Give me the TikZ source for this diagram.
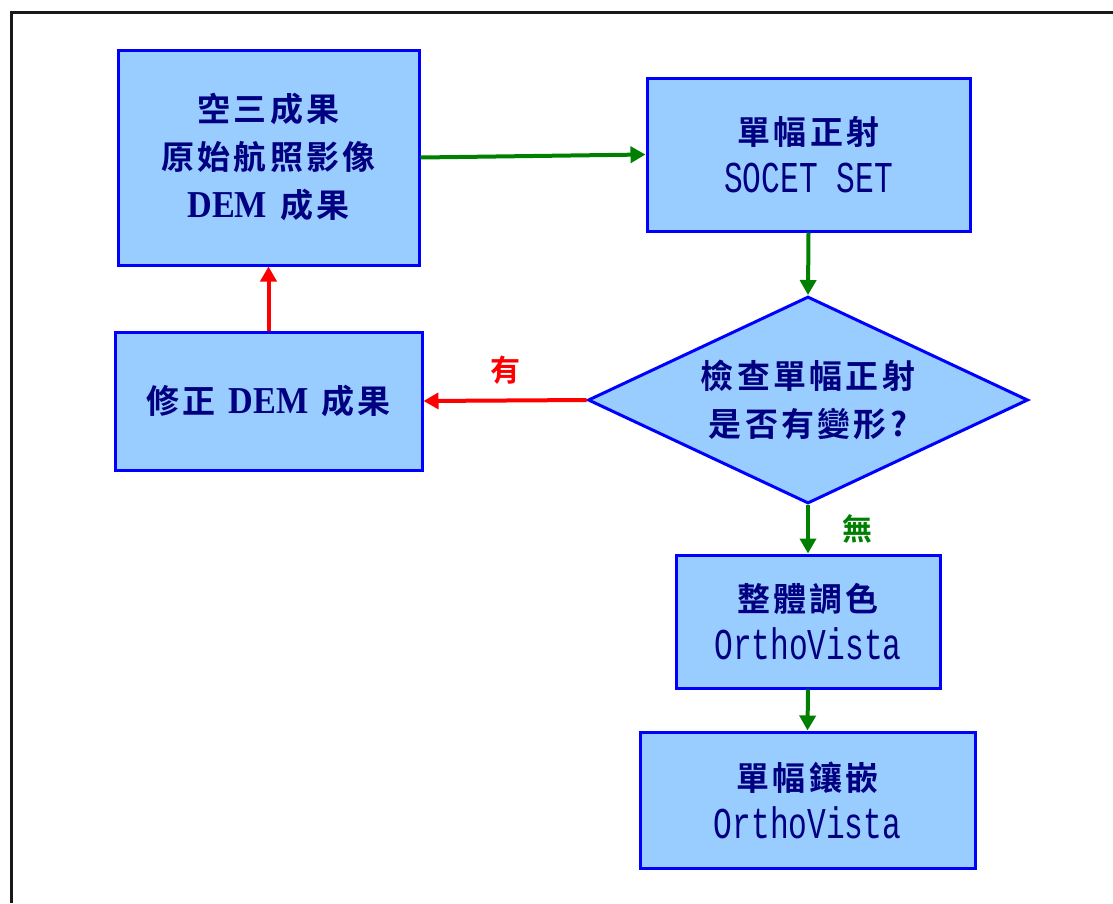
\documentclass[tikz,border=0pt]{standalone}
\usepackage{fontspec}
\setmainfont{Liberation Serif}
\newfontfamily\cjk[LetterSpace=10]{Noto Sans CJK TC Bold}
\newfontfamily\monofnt[FakeStretch=0.71]{Liberation Mono}
\newfontfamily\demfont[FakeStretch=0.9]{Liberation Serif Bold}
\usetikzlibrary{arrows.meta,shapes.geometric}
\newcommand\zh[1]{{\cjk #1}}
\newcommand\en[1]{{\demfont\fontsize{38}{48}\selectfont #1}}
\newcommand\mn[1]{{\monofnt\fontsize{44}{48}\selectfont #1}}
\newcommand\gap{\hspace*{13pt}}
\definecolor{boxfill}{HTML}{99CCFF}
\definecolor{navytext}{HTML}{000080}
\definecolor{arrowgreen}{HTML}{008000}
\tikzset{
  box/.style={draw=blue, line width=3pt, fill=boxfill, text=navytext, align=center,
    inner sep=0pt, font=\fontsize{33}{48}\selectfont},
  garrow/.style={draw=arrowgreen, line width=4pt, -{Triangle[length=15pt,width=16pt]}},
  rarrow/.style={draw=red, line width=4pt, -{Triangle[length=15pt,width=16pt]}},
  lbl/.style={inner sep=0pt, font=\fontsize{30}{36}\selectfont}
}
\begin{document}
\begin{tikzpicture}[x=1pt,y=-1pt]
\useasboundingbox (0,0) rectangle (1113,903);
\draw[line width=3pt, black!90] (11,903) -- (11,12) -- (1113,12);
\node[box, minimum width=301, minimum height=215] (A) at (268.5,157.5)
  {\zh{空三成果}\\\zh{原始航照影像}\\\en{DEM}\gap\zh{成果}};
\node[box, minimum width=323, minimum height=153] (B) at (808.5,154.5)
  {\zh{單幅正射}\\\mn{SOCET SET}};
\node[box, diamond, aspect=2.13, minimum width=440, minimum height=207] (Q) at (808,400)
  {\zh{檢查單幅正射}\\\zh{是否有變形?}};
\node[box, minimum width=307, minimum height=138] (C) at (268.5,401)
  {\zh{修正}\gap\en{DEM}\gap\zh{成果}};
\node[box, minimum width=264, minimum height=133] (D) at (808,621.5)
  {\zh{整體調色}\\\mn{OrthoVista}};
\node[box, minimum width=335, minimum height=136] (E) at (807.5,800)
  {\zh{單幅鑲嵌}\\\mn{OrthoVista}};
\draw[garrow] (A.east) -- (B.west);
\draw[garrow] (B.south) -- (Q.north);
\draw[rarrow] (Q.west) -- node[lbl, midway, above=14pt, text=red] (yes) {\zh{有}} (C.east);
\draw[rarrow] (C.north) -- (A.south);
\draw[garrow] (Q.south) -- node[lbl, midway, right=32pt, text=arrowgreen] (no) {\zh{無}} (D.north);
\draw[garrow] (D.south) -- (E.north);
\end{tikzpicture}
\end{document}
